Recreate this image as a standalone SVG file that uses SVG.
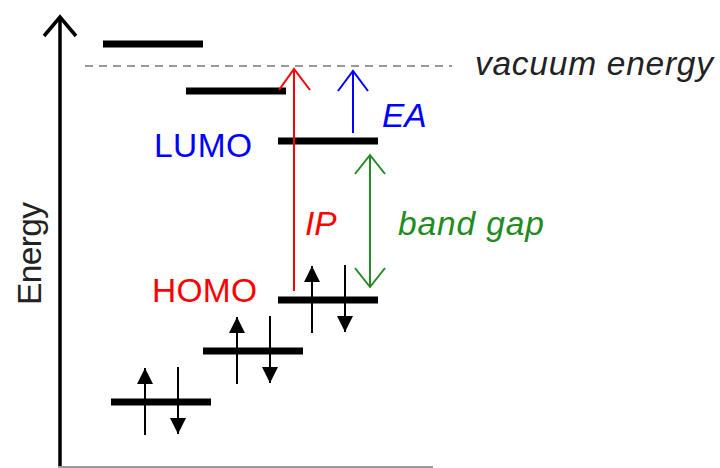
<svg xmlns="http://www.w3.org/2000/svg" width="720" height="468" viewBox="0 0 720 468">
<defs>
<style>
.lvl{stroke:#000;stroke-width:7;fill:none}
.axis{stroke:#000;stroke-width:3.5;fill:none}
.spin{stroke:#000;stroke-width:2;fill:none}
.t{font-family:"Liberation Sans",Arial,sans-serif;font-size:33.5px}
.i{font-style:italic}
</style>
<marker id="tri" viewBox="0 0 16 16" markerWidth="16" markerHeight="16" refX="16" refY="8" orient="auto" markerUnits="userSpaceOnUse">
<path d="M0,0 L16,8 L0,16 Z" fill="#000"/>
</marker>
</defs>
<rect width="720" height="468" fill="#fff"/>
<g id="axes">
<line class="axis" x1="60" y1="17" x2="60" y2="468"/>
<polyline class="axis" points="44,36 60,17 76,36"/>
<line x1="58" y1="467" x2="433" y2="467" stroke="#999" stroke-width="2"/>
<text class="t" transform="translate(41,305) rotate(-90)" fill="#222" textLength="103" lengthAdjust="spacing">Energy</text>
</g>
<g id="vacuum">
<line x1="85" y1="66" x2="452" y2="66" stroke="#999" stroke-width="2.2" stroke-dasharray="8,6"/>
<text class="t i" x="475" y="75" fill="#222" textLength="238" lengthAdjust="spacing">vacuum energy</text>
</g>
<g id="level1"><line class="lvl" x1="103" y1="44" x2="203" y2="44"/></g>
<g id="level2"><line class="lvl" x1="186" y1="91" x2="286" y2="91"/></g>
<g id="lumo">
<line class="lvl" x1="278" y1="141" x2="378" y2="141"/>
<text class="t" x="154" y="157" fill="#0000ff" textLength="98" lengthAdjust="spacing">LUMO</text>
</g>
<g id="homo">
<line class="lvl" x1="278" y1="300" x2="378" y2="300"/>
<text class="t" x="152" y="302" fill="#ff0000" textLength="105" lengthAdjust="spacing">HOMO</text>
</g>
<g id="level5"><line class="lvl" x1="203" y1="351" x2="303" y2="351"/></g>
<g id="level6"><line class="lvl" x1="111" y1="402" x2="211" y2="402"/></g>
<g id="connectors">
<g fill="none" stroke-width="2">
<line x1="294" y1="291" x2="294" y2="69" stroke="#ff0000"/>
<polyline points="279,90 294,69 310,90" stroke="#ff0000"/>
<line x1="353" y1="133" x2="353" y2="71" stroke="#0000ff"/>
<polyline points="338,91 353,71 368,91" stroke="#0000ff"/>
<line x1="370" y1="155" x2="370" y2="287" stroke="#228b22"/>
<polyline points="355,174 370,155 385,174" stroke="#228b22"/>
<polyline points="355,268 370,287 385,268" stroke="#228b22"/>
</g>
<g class="spin" marker-end="url(#tri)">
<line x1="312" y1="333" x2="312" y2="266"/>
<line x1="345" y1="265" x2="345" y2="332"/>
<line x1="237" y1="384" x2="237" y2="317"/>
<line x1="270" y1="316" x2="270" y2="383"/>
<line x1="145" y1="435" x2="145" y2="368"/>
<line x1="178" y1="367" x2="178" y2="434"/>
</g>
</g>
<g id="labels">
<text class="t i" x="305" y="235" fill="#ff0000">IP</text>
<text class="t i" x="382" y="127" fill="#0000ff">EA</text>
<text class="t i" x="398" y="235" fill="#228b22" textLength="146" lengthAdjust="spacing">band gap</text>
</g>
</svg>
